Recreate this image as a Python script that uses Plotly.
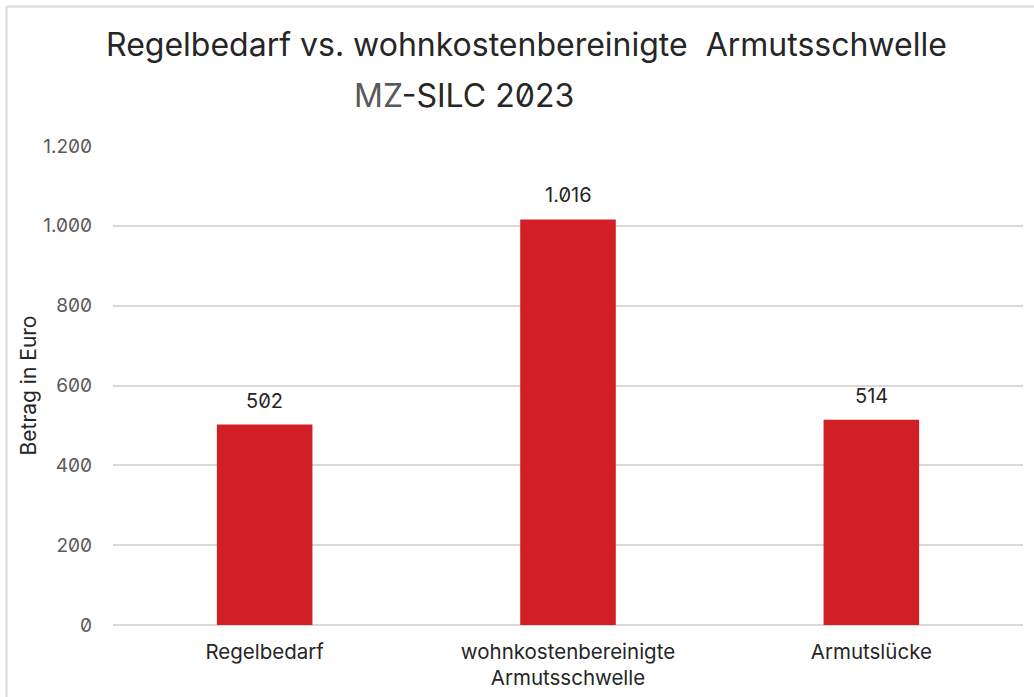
import plotly.graph_objects as go

categories = ["Regelbedarf", "wohnkostenbereinigte<br>Armutsschwelle", "Armutslücke"]
values = [502, 1016, 514]
y_ticks = [0, 200, 400, 600, 800, 1000, 1200]

W, H = 1034, 697
L, R, T, B = 113, 11, 146, 72
pw, ph = W - L - R, H - T - B

def px_x(x):
    return (x - L) / pw

def px_y(y):
    return (H - B - y) / ph

FONT = "Inter"
DARK = "#262626"
GREY = "#595959"

fig = go.Figure(
    go.Bar(
        x=categories,
        y=values,
        marker=dict(color="#D21F26", line=dict(width=0)),
        width=0.315,
        hoverinfo="skip",
    )
)

label_annotations = [
    dict(
        x=c, y=v, xref="x", yref="y",
        text=f"{v:,d}".replace(",", "."),
        showarrow=False, xanchor="center", yanchor="bottom", yshift=10,
        font=dict(family=FONT, size=20, color=DARK),
    )
    for c, v in zip(categories, values)
]

fig.update_layout(
    width=W,
    height=H,
    margin=dict(l=L, r=R, t=T, b=B, autoexpand=False),
    paper_bgcolor="white",
    plot_bgcolor="white",
    separators=",.",
    showlegend=False,
    font=dict(family=FONT, color=DARK),
    xaxis=dict(
        showgrid=False,
        showline=False,
        ticks="",
        ticklabelstandoff=12,
        tickfont=dict(family=FONT, size=20.5, color=DARK),
        fixedrange=True,
    ),
    yaxis=dict(
        range=[0, 1200],
        tickvals=y_ticks,
        tickformat=",d",
        showgrid=True,
        gridcolor="#D9D9D9",
        gridwidth=1.5,
        zeroline=True,
        zerolinecolor="#D9D9D9",
        zerolinewidth=1.5,
        showline=False,
        ticks="",
        ticklabelstandoff=20,
        tickfont=dict(family=FONT, size=19, color=GREY),
        title=dict(text="Betrag in Euro", font=dict(family=FONT, size=21, color=DARK), standoff=0),
        fixedrange=True,
    ),
    annotations=label_annotations + [
        dict(
            text="Regelbedarf vs. wohnkostenbereinigte  Armutsschwelle",
            x=px_x(526), y=px_y(45), xref="paper", yref="paper",
            xanchor="center", yanchor="middle", showarrow=False,
            font=dict(family=FONT, size=32, color=DARK),
        ),
        dict(
            text="<span style='color:#595959'>MZ</span>-SILC 2023",
            x=px_x(464), y=px_y(96), xref="paper", yref="paper",
            xanchor="center", yanchor="middle", showarrow=False,
            font=dict(family=FONT, size=32, color=DARK),
        ),
    ],
    shapes=[
        dict(type="line", xref="paper", yref="paper",
             x0=px_x(6.5), x1=px_x(W + 5), y0=px_y(6.5), y1=px_y(6.5),
             line=dict(color="#D9D9D9", width=2)),
        dict(type="line", xref="paper", yref="paper",
             x0=px_x(6.5), x1=px_x(6.5), y0=px_y(6.5), y1=px_y(H + 5),
             line=dict(color="#D9D9D9", width=2)),
    ],
)

post = """
document.body.style.margin = '0';
document.body.style.overflow = 'hidden';
var st = document.createElement('style');
st.innerHTML = '.js-plotly-plot text { font-feature-settings: "zero" 1; }';
document.head.appendChild(st);
"""

fig.write_html("out.html", post_script=post, config={"displayModeBar": False})
